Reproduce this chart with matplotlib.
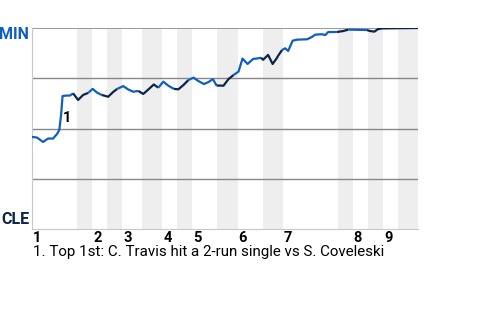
import numpy as np
import matplotlib.pyplot as plt

# half-inning boundaries, in plate appearances
half_starts = [0, 9, 12, 15, 18, 22, 26, 29, 32, 37, 41, 46, 50, 61, 64, 67, 70, 73]
game_end = 77
inning_labels = ["1", "2", "3", "4", "5", "6", "7", "8", "9"]

# win probability for MIN (percent)
wp_x = [0.0, 1.0, 2.2, 3.2, 4.2, 5.0, 5.45, 5.8, 6.1, 7.0, 7.6, 8.2, 9.2, 10.2, 11.2,
        12.1, 13.0, 13.9, 15.2, 16.2, 17.0, 18.2, 19.2, 20.2, 21.2, 22.2, 23.2, 24.3,
        25.2, 26.2, 27.2, 28.3, 29.2, 30.2, 31.2, 32.2, 33.2, 34.3, 35.2, 36.1, 36.8,
        38.2, 39.2, 40.2, 41.2, 41.6, 42.0, 43.0, 44.1, 45.1, 45.7, 46.1, 47.1, 48.0,
        48.8, 49.1, 49.9, 50.5, 51.1, 52.0, 52.9, 54.9, 55.8, 56.5, 57.8, 58.5, 59.1,
        60.8, 62.1, 63.1, 66.8, 67.4, 68.3, 69.0, 69.8, 77.0]
wp_y = [45.8, 45.5, 43.3, 45.0, 45.0, 47.3, 49.3, 56.7, 66.2, 66.4, 66.4, 67.5, 64.2, 66.7, 67.7,
        69.7, 67.8, 66.7, 65.8, 68.2, 69.7, 71.1, 69.4, 68.3, 68.7, 67.2, 69.4, 71.9,
        70.3, 73.3, 71.3, 69.7, 69.5, 71.6, 74.1, 75.3, 73.6, 72.1, 73.1, 74.6, 71.4,
        71.3, 74.6, 76.6, 78.3, 81.6, 84.8, 82.1, 84.6, 84.9, 85.2, 84.2, 86.6, 82.1,
        84.9, 86.2, 89.1, 89.9, 88.6, 93.7, 94.2, 94.4, 95.5, 96.7, 96.9, 96.5, 98.0,
        98.0, 98.5, 99.2, 99.0, 98.5, 98.2, 99.4, 99.8, 100.0]

note = "1. Top 1st: C. Travis hit a 2-run single vs S. Coveleski"
note_x, note_y = 6.0, 56.0

MIN_BLUE = "#0e5fc0"
CLE_NAVY = "#0b2447"

fig = plt.figure(figsize=(4.8, 3.2), dpi=100)
ax = fig.add_axes([32 / 480, 91 / 320, 386 / 480, 201 / 320])
ax.set_xlim(0, game_end)
ax.set_ylim(0, 100)

bounds = half_starts + [game_end]
for i in range(1, len(half_starts), 2):
    ax.axvspan(bounds[i], bounds[i + 1], color="#eeeeee", lw=0, zorder=0)

for yv in [25, 50, 75]:
    ax.axhline(yv, color="#888888", lw=1, zorder=1)
ax.axhline(100, color="#888888", lw=1.2, zorder=1)

x = np.array(wp_x)
y = np.array(wp_y)
for i in range(len(half_starts)):
    a, b = bounds[i], bounds[i + 1]
    m = (x >= a) & (x <= b)
    xs = list(x[m])
    ys = list(y[m])
    # join to neighbour points so segments connect
    before = np.where(x < a)[0]
    if len(before):
        xs = [x[before[-1]]] + xs
        ys = [y[before[-1]]] + ys
    col = MIN_BLUE if i % 2 == 0 else CLE_NAVY
    ax.plot(xs, ys, color=col, lw=1.6, zorder=3, solid_capstyle="butt")

for s in ["top", "right"]:
    ax.spines[s].set_visible(False)
ax.spines["left"].set_color("#c8c8c8")
ax.spines["bottom"].set_color("#c8c8c8")
ax.set_xticks([])
ax.set_yticks([])

font = "Roboto"
ax.text(note_x + 0.1, note_y + 2.5, "1", fontsize=10.5, fontweight="bold", family=font,
        ha="left", va="top", zorder=4)

for lab, s in zip(inning_labels, half_starts[0::2]):
    ax.text(s + 0.2, -1, lab, fontsize=10.5, fontweight="bold", family=font,
            ha="left", va="top", transform=ax.transData, clip_on=False)

fig.text(29 / 480, 1 - 34.5 / 320, "MIN", color=MIN_BLUE, fontsize=11.5, fontweight="bold",
         family=font, ha="right", va="center")
fig.text(29 / 480, 1 - 220 / 320, "CLE", color=CLE_NAVY, fontsize=11.5, fontweight="bold",
         family=font, ha="right", va="center")
fig.text(33 / 480, 1 - 252 / 320, note, fontsize=10.9, family=font, ha="left", va="center")

fig.savefig("out.png", dpi=100)
